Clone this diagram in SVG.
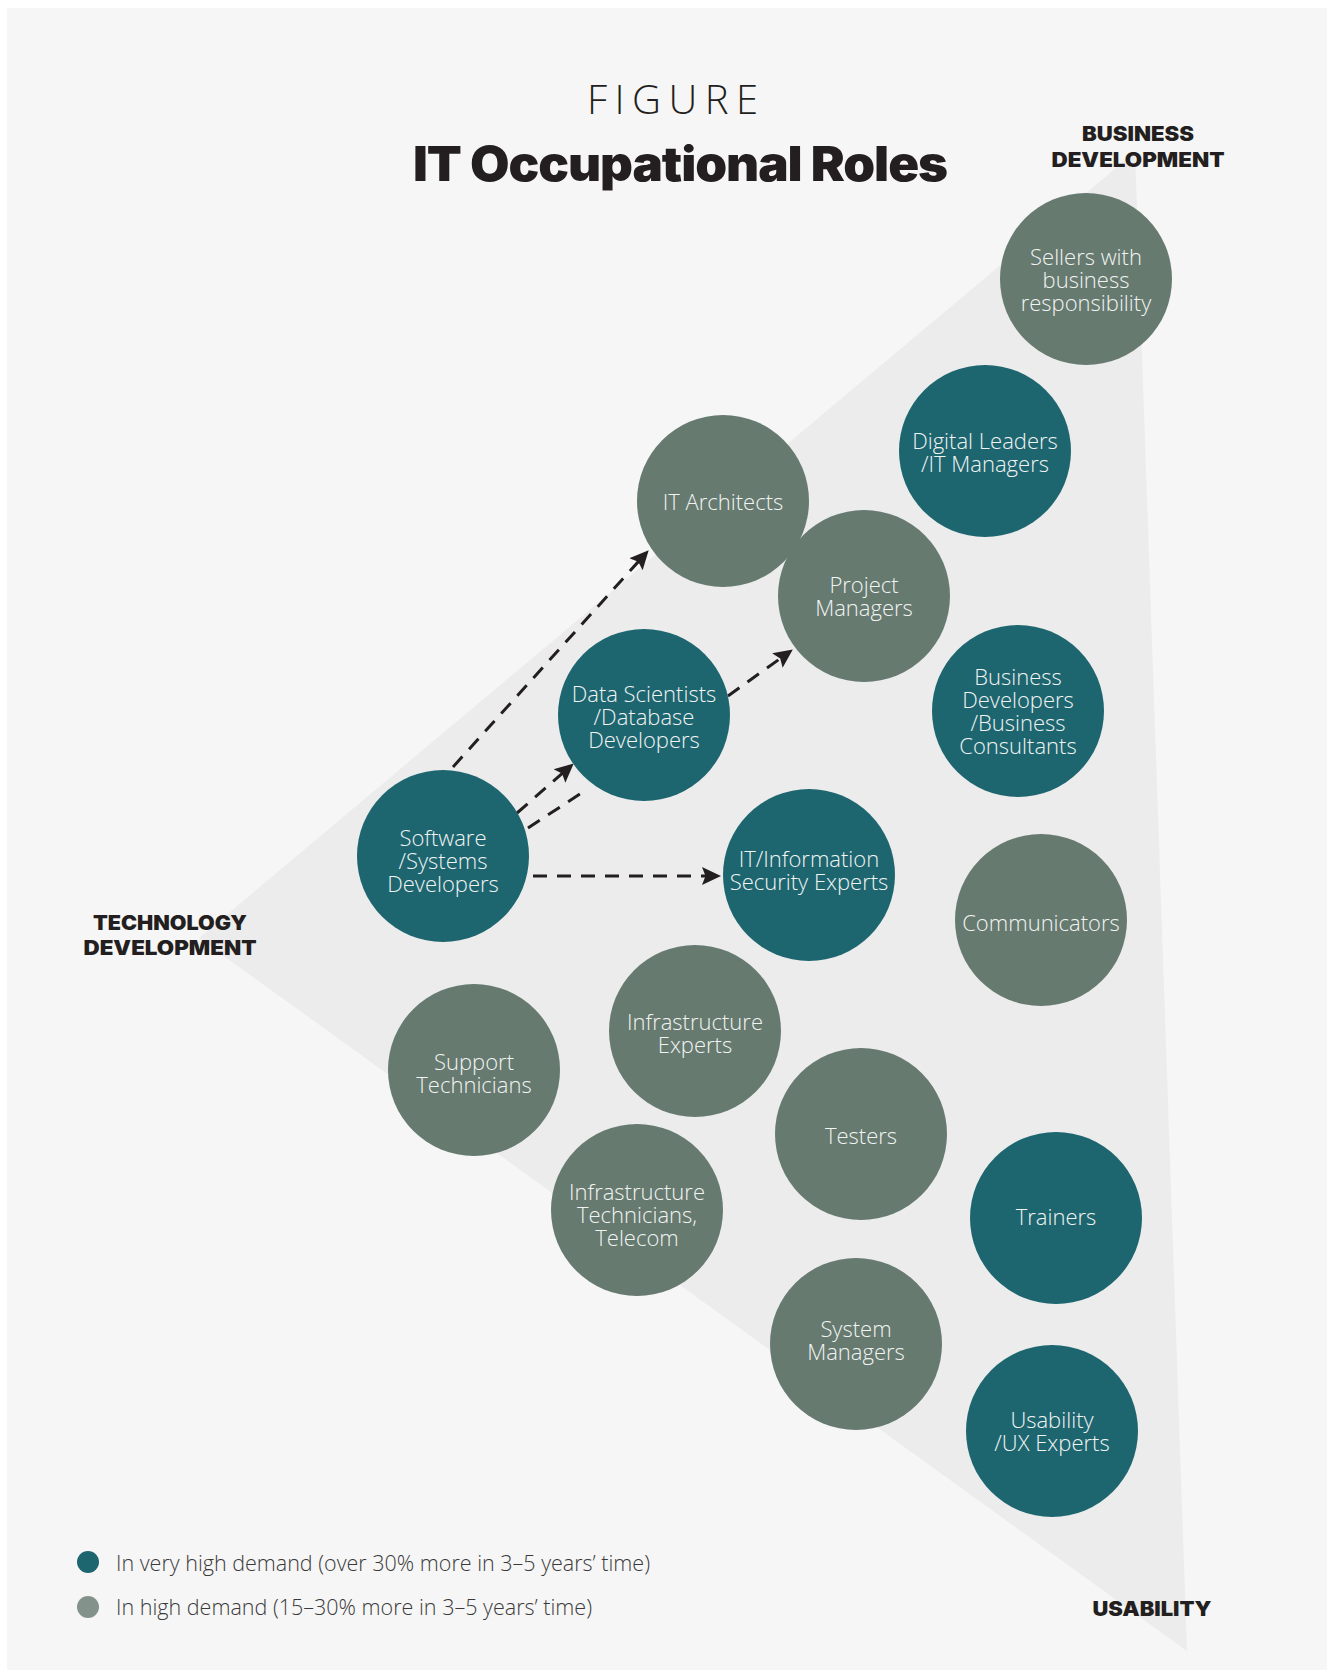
<svg xmlns="http://www.w3.org/2000/svg" width="1327" height="1670" viewBox="0 0 1327 1670">
<defs>
<style>
.bg{fill:#f6f6f6}
.tri{fill:#ececec}
.teal{fill:#1d6670}
.gray{fill:#667a70}
.lbl{font-family:"Open Sans","Noto Sans",sans-serif;font-weight:300;font-size:22px;fill:#f2f4f3;text-anchor:middle}
.axis{font-family:Inter,"Liberation Sans",sans-serif;font-weight:900;font-size:20px;fill:#231f20;text-anchor:middle}
.leg{font-family:"Open Sans","Noto Sans",sans-serif;font-weight:300;font-size:22px;fill:#3a3a3a}
.conn{fill:none;stroke:#231f20;stroke-width:3;stroke-dasharray:14 10}
</style>
<marker id="arr" markerUnits="userSpaceOnUse" markerWidth="20" markerHeight="20" viewBox="0 0 20 20" refX="9" refY="10" orient="auto">
<path d="M0,1 L19,10 L0,19 L3.5,10 Z" fill="#231f20" stroke="none"/>
</marker>
</defs>
<rect x="0" y="0" width="1327" height="1670" fill="#ffffff"/>
<rect class="bg" x="7" y="8" width="1320" height="1662"/>
<polygon class="tri" points="199,938 1135,152 1187,1651"/>

<g id="title">
<text x="587" y="114" textLength="171" lengthAdjust="spacing" style="font-family:'Open Sans','Noto Sans',sans-serif;font-weight:300;font-size:40px;fill:#231f20">FIGURE</text>
<text x="413" y="181" textLength="534" lengthAdjust="spacingAndGlyphs" style="font-family:Inter,'Liberation Sans',sans-serif;font-weight:900;font-size:48px;fill:#231f20;letter-spacing:-1px">IT Occupational Roles</text>
</g>

<g id="axis-labels">
<text class="axis" x="1138" y="141" textLength="112" lengthAdjust="spacingAndGlyphs">BUSINESS</text>
<text class="axis" x="1138" y="167" textLength="173" lengthAdjust="spacingAndGlyphs">DEVELOPMENT</text>
<text class="axis" x="170" y="930" textLength="154" lengthAdjust="spacingAndGlyphs">TECHNOLOGY</text>
<text class="axis" x="170" y="955" textLength="173" lengthAdjust="spacingAndGlyphs">DEVELOPMENT</text>
<text class="axis" x="1152" y="1616" textLength="119" lengthAdjust="spacingAndGlyphs">USABILITY</text>
</g>

<g id="connectors">
<line class="conn" x1="453" y1="767" x2="642" y2="557.6" marker-end="url(#arr)"/>
<line class="conn" x1="517" y1="813" x2="566.2" y2="770" marker-end="url(#arr)"/>
<line class="conn" x1="528" y1="828" x2="586" y2="790"/>
<line class="conn" x1="728" y1="696" x2="784.7" y2="655.3" marker-end="url(#arr)"/>
<line class="conn" x1="533" y1="876" x2="711" y2="876" marker-end="url(#arr)"/>
</g>

<g id="sellers"><circle class="gray" cx="1086" cy="279" r="86"/>
<text class="lbl" x="1086" y="265">Sellers with</text><text class="lbl" x="1086" y="288">business</text><text class="lbl" x="1086" y="311">responsibility</text></g>

<g id="digital-leaders"><circle class="teal" cx="985" cy="451" r="86"/>
<text class="lbl" x="985" y="449">Digital Leaders</text><text class="lbl" x="985" y="472">/IT Managers</text></g>

<g id="it-architects"><circle class="gray" cx="723" cy="501" r="86"/>
<text class="lbl" x="723" y="510">IT Architects</text></g>

<g id="project-managers"><circle class="gray" cx="864" cy="596" r="86"/>
<text class="lbl" x="864" y="593">Project</text><text class="lbl" x="864" y="616">Managers</text></g>

<g id="data-scientists"><circle class="teal" cx="644" cy="715" r="86"/>
<text class="lbl" x="644" y="702">Data Scientists</text><text class="lbl" x="644" y="725">/Database</text><text class="lbl" x="644" y="748">Developers</text></g>

<g id="business-developers"><circle class="teal" cx="1018" cy="711" r="86"/>
<text class="lbl" x="1018" y="685">Business</text><text class="lbl" x="1018" y="708">Developers</text><text class="lbl" x="1018" y="731">/Business</text><text class="lbl" x="1018" y="754">Consultants</text></g>

<g id="software-developers"><circle class="teal" cx="443" cy="856" r="86"/>
<text class="lbl" x="443" y="846">Software</text><text class="lbl" x="443" y="869">/Systems</text><text class="lbl" x="443" y="892">Developers</text></g>

<g id="security-experts"><circle class="teal" cx="809" cy="875" r="86"/>
<text class="lbl" x="809" y="867">IT/Information</text><text class="lbl" x="809" y="890">Security Experts</text></g>

<g id="communicators"><circle class="gray" cx="1041" cy="920" r="86"/>
<text class="lbl" x="1041" y="931">Communicators</text></g>

<g id="infrastructure-experts"><circle class="gray" cx="695" cy="1031" r="86"/>
<text class="lbl" x="695" y="1030">Infrastructure</text><text class="lbl" x="695" y="1053">Experts</text></g>

<g id="support-technicians"><circle class="gray" cx="474" cy="1070" r="86"/>
<text class="lbl" x="474" y="1070">Support</text><text class="lbl" x="474" y="1093">Technicians</text></g>

<g id="testers"><circle class="gray" cx="861" cy="1134" r="86"/>
<text class="lbl" x="861" y="1144">Testers</text></g>

<g id="trainers"><circle class="teal" cx="1056" cy="1218" r="86"/>
<text class="lbl" x="1056" y="1225">Trainers</text></g>

<g id="infrastructure-technicians"><circle class="gray" cx="637" cy="1210" r="86"/>
<text class="lbl" x="637" y="1200">Infrastructure</text><text class="lbl" x="637" y="1223">Technicians,</text><text class="lbl" x="637" y="1246">Telecom</text></g>

<g id="system-managers"><circle class="gray" cx="856" cy="1344" r="86"/>
<text class="lbl" x="856" y="1337">System</text><text class="lbl" x="856" y="1360">Managers</text></g>

<g id="usability-experts"><circle class="teal" cx="1052" cy="1431" r="86"/>
<text class="lbl" x="1052" y="1428">Usability</text><text class="lbl" x="1052" y="1451">/UX Experts</text></g>

<g id="legend">
<circle cx="88" cy="1562" r="11" fill="#1d6670"/>
<text class="leg" x="116" y="1571" textLength="534" lengthAdjust="spacingAndGlyphs">In very high demand (over 30% more in 3–5 years’ time)</text>
<circle cx="88" cy="1607" r="11" fill="#83938b"/>
<text class="leg" x="116" y="1615" textLength="476" lengthAdjust="spacingAndGlyphs">In high demand (15–30% more in 3–5 years’ time)</text>
</g>
</svg>
